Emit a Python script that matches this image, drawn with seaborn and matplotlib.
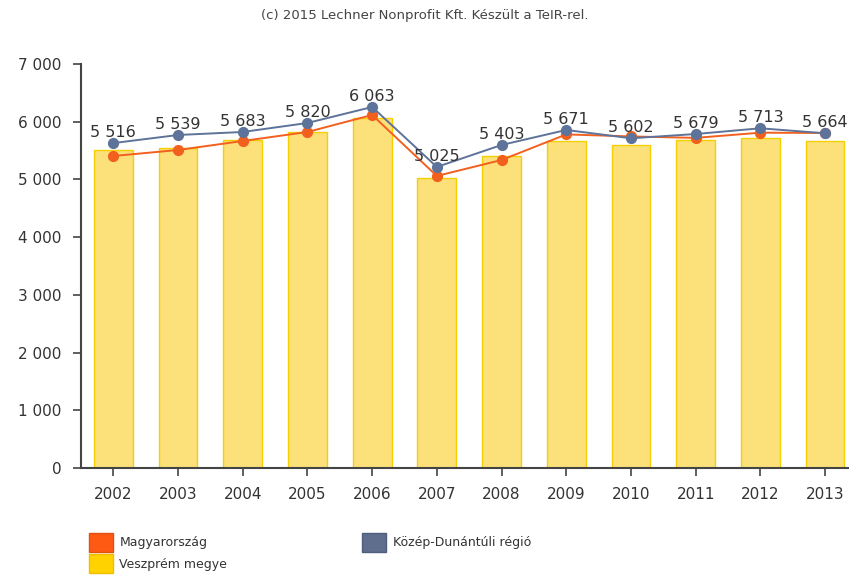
import matplotlib
matplotlib.use("Agg")
import matplotlib.pyplot as plt
import matplotlib.patches as mpatches
from matplotlib.ticker import FuncFormatter
import seaborn as sns
import pandas as pd

years = ["2002", "2003", "2004", "2005", "2006", "2007", "2008", "2009", "2010", "2011", "2012", "2013"]
veszprem = [5516, 5539, 5683, 5820, 6063, 5025, 5403, 5671, 5602, 5679, 5713, 5664]
kozep_dunantul = [5630, 5770, 5822, 5978, 6255, 5216, 5597, 5857, 5713, 5787, 5886, 5800]
magyarorszag = [5406, 5510, 5666, 5822, 6117, 5060, 5337, 5780, 5745, 5720, 5810, 5805]

series_names = ["Magyarország", "Veszprém megye", "Közép-Dunántúli régió"]
title_text = "(c) 2015 Lechner Nonprofit Kft. Készült a TeIR-rel."

df = pd.DataFrame({"year": years, "veszprem": veszprem,
                   "kozep": kozep_dunantul, "magyar": magyarorszag})

sns.set_theme(style="white")
plt.rcParams['font.family'] = ['DejaVu Sans']

col_orange = "#F2601E"
col_blue = "#5E7399"
col_bar = "#FCE07A"
col_bar_edge = "#F5D000"
text_col = "#333333"

fig = plt.figure(figsize=(8.49, 5.86), dpi=100)
ax = fig.add_axes([81 / 849, (586 - 468) / 586, 1 - 81 / 849, (468 - 64) / 586])

sns.barplot(data=df, x="year", y="veszprem", color=col_bar, width=0.6,
            edgecolor=col_bar_edge, linewidth=1.0, saturation=1, ax=ax, zorder=2)

sns.pointplot(data=df, x="year", y="magyar", color=col_orange, markers="o",
              markersize=7, linewidth=1.4, ax=ax, zorder=3)
sns.pointplot(data=df, x="year", y="kozep", color=col_blue, markers="o",
              markersize=7, linewidth=1.4, ax=ax, zorder=4)

for i, (v, b) in enumerate(zip(veszprem, kozep_dunantul)):
    lbl = f"{v:,}".replace(",", " ")
    ax.annotate(lbl, xy=(i, b), xytext=(0, 7.5), textcoords="offset points",
                ha="center", va="center", fontsize=11.5, color=text_col, zorder=6)

ax.set_ylim(0, 7000)
ax.set_xlim(-0.5, -0.5 + 768 / 64.7)
ax.set_yticks(range(0, 7001, 1000))
ax.yaxis.set_major_formatter(FuncFormatter(lambda v, p: f"{int(v):,}".replace(",", " ")))
ax.set_xlabel("")
ax.set_ylabel("")

for s in ["top", "right"]:
    ax.spines[s].set_visible(False)
for s in ["left", "bottom"]:
    ax.spines[s].set_color("#444444")
    ax.spines[s].set_linewidth(1.5)

ax.tick_params(axis="both", which="major", direction="out", length=6, width=1.2,
               color="#444444", labelsize=11, labelcolor=text_col, left=True, bottom=True)
ax.tick_params(axis="x", pad=8)
ax.tick_params(axis="y", pad=8)
ax.set_facecolor("none")
fig.patch.set_facecolor("white")

fig.text(0.5, 1 - 15 / 586, title_text, ha="center", va="center", fontsize=9.5, color="#444444")

handles = [mpatches.Patch(facecolor="#FF5A14", edgecolor="#E05010"),
           mpatches.Patch(facecolor="#FFD200", edgecolor="#F0C000"),
           mpatches.Patch(facecolor="#5E6E8C", edgecolor="#4E5E7C")]
leg = fig.legend(handles, series_names, ncol=2, loc="upper left",
                 bbox_to_anchor=(80 / 849, 1 - 524 / 586), frameon=False,
                 fontsize=9, handlelength=1.9, handleheight=1.95, labelspacing=0.2,
                 handletextpad=0.55, columnspacing=10.8, borderpad=0.2)
for t in leg.get_texts():
    t.set_color(text_col)

fig.savefig("out.png", dpi=100)
